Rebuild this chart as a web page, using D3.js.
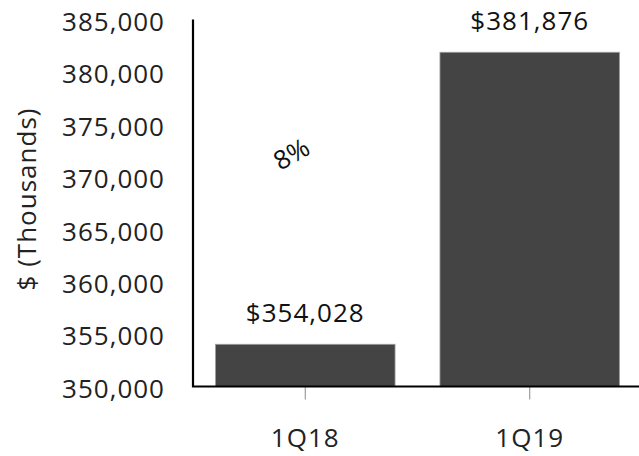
<!DOCTYPE html>
<html>
<head>
<meta charset="utf-8">
<script src="https://cdn.jsdelivr.net/npm/d3@7"></script>
<style>
  html, body { margin: 0; padding: 0; background: #fff; }
  svg { display: block; font-family: "Open Sans", "Noto Sans", sans-serif; }
</style>
</head>
<body>
<svg id="chart" width="639" height="456"></svg>
<script>
// Quarterly totals, $ thousands
const quarters = ["1Q18", "1Q19"];
const totals = [354028, 381876];
const yTicks = [350000, 355000, 360000, 365000, 370000, 375000, 380000, 385000];
const growthLabel = "8%";

const svg = d3.select("#chart");
const axisX = 193, baseY = 386.5, topY = 19.5;
const fs = 26, ls = 1;

const x = d3.scaleBand().domain(quarters).range([axisX, 642])
  .paddingInner(0.2).paddingOuter(0.1);
const y = d3.scaleLinear().domain([350000, 385000]).range([baseY, topY]);

// bars
svg.append("g").selectAll("rect").data(quarters).join("rect")
  .attr("x", d => x(d))
  .attr("width", x.bandwidth())
  .attr("y", (d, i) => y(totals[i]))
  .attr("height", (d, i) => baseY - y(totals[i]))
  .attr("fill", "#444444")
  .attr("stroke", "#a0a0a0")
  .attr("stroke-width", 0.8);

// value labels
const fmt = d3.format(",");
svg.append("g").selectAll("text").data(quarters).join("text")
  .attr("x", d => x(d) + x.bandwidth() / 2)
  .attr("y", (d, i) => y(totals[i]) - 22)
  .attr("text-anchor", "middle")
  .attr("font-size", fs)
  .attr("letter-spacing", ls)
  .attr("fill", "#111")
  .text((d, i) => "$" + fmt(totals[i]));

// y axis
const yAxis = svg.append("g").attr("transform", `translate(${axisX},0)`)
  .call(d3.axisLeft(y).tickValues(yTicks).tickFormat(fmt).tickSize(0).tickPadding(28));
yAxis.select(".domain").remove();
yAxis.selectAll("text").attr("font-size", fs).attr("letter-spacing", ls)
  .attr("fill", "#222").attr("dy", "0.42em")
  .attr("font-family", "'Open Sans', sans-serif");

// x axis
const xAxis = svg.append("g").attr("transform", `translate(0,${baseY})`)
  .call(d3.axisBottom(x).tickSize(13));
xAxis.select(".domain").remove();
xAxis.selectAll(".tick line").attr("stroke", "#888").attr("stroke-width", 1);
xAxis.selectAll("text").attr("font-size", fs).attr("letter-spacing", ls)
  .attr("fill", "#222").attr("y", 60.5).attr("dy", 0)
  .attr("font-family", "'Open Sans', sans-serif");

// axis frame lines
svg.append("path")
  .attr("d", `M${axisX},${topY}V${baseY}H639`)
  .attr("fill", "none").attr("stroke", "#000").attr("stroke-width", 2.2);

// y axis title
svg.append("text")
  .attr("transform", `translate(36,199) rotate(-90)`)
  .attr("text-anchor", "middle")
  .attr("font-size", fs)
  .attr("letter-spacing", ls)
  .attr("fill", "#222")
  .text("$ (Thousands)");

// growth annotation
svg.append("text")
  .attr("transform", `translate(296,162) rotate(-30)`)
  .attr("text-anchor", "middle")
  .attr("font-size", fs)
  .attr("fill", "#111")
  .text(growthLabel);
</script>
</body>
</html>
